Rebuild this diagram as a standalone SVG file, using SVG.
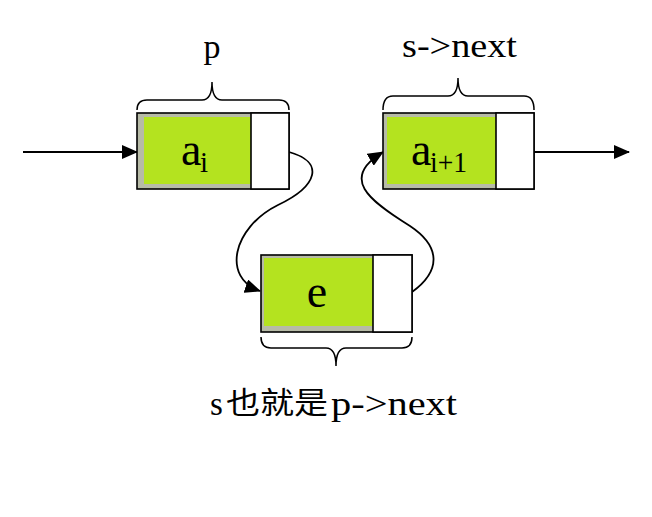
<svg xmlns="http://www.w3.org/2000/svg" width="652" height="517" viewBox="0 0 652 517">
<defs>
<marker id="ah" markerUnits="userSpaceOnUse" markerWidth="16" markerHeight="14" refX="15" refY="7" orient="auto">
<path d="M0,0 L16,7 L0,14 Z" fill="#000"/>
</marker>
<style>
.outer{fill:#b7bba7;stroke:#000;stroke-width:1.6}
.green{fill:#b4e31f}
.ptr{fill:#fff;stroke:#000;stroke-width:1.6}
.brace{fill:none;stroke:#000;stroke-width:1.5}
.conn{fill:none;stroke:#000;stroke-width:1.8}
.t{font-family:"Liberation Serif","Times New Roman",serif;fill:#000}
.cjk{font-family:"Noto Sans CJK SC","Noto Sans CJK TC",sans-serif;fill:#000}
</style>
</defs>
<rect width="652" height="517" fill="#fff"/>

<g id="connectors">
<line class="conn" x1="23" y1="152" x2="137" y2="152" marker-end="url(#ah)"/>
<line class="conn" x1="534" y1="152" x2="629" y2="152" marker-end="url(#ah)"/>
<path class="conn" d="M289,152 C325,162 318,186 278,205 C232,228 222,278 260,291" marker-end="url(#ah)"/>
<path class="conn" d="M412,292 C442,270 440,246 410,226 C368,200 340,178 383,152" marker-end="url(#ah)"/>
</g>

<g id="node-p">
<rect class="outer" x="137" y="113" width="152" height="76"/>
<rect class="green" x="144" y="117" width="107" height="67"/>
<rect class="ptr" x="251" y="113" width="38" height="76"/>
<text class="t" x="181" y="165" font-size="46">a</text>
<text class="t" x="200" y="172" font-size="29">i</text>
<path class="brace" d="M137,110 Q137,100 147,100 L202,100 Q212,100 212,82 Q212,100 222,100 L279,100 Q289,100 289,110"/>
<text class="t" x="212" y="58" font-size="34" text-anchor="middle">p</text>
</g>

<g id="node-next">
<rect class="outer" x="383" y="113" width="151" height="76"/>
<rect class="green" x="387" y="117" width="109" height="67"/>
<rect class="ptr" x="496" y="113" width="38" height="76"/>
<text class="t" x="411" y="165" font-size="46">a</text>
<text class="t" x="430" y="172" font-size="29" textLength="37" lengthAdjust="spacingAndGlyphs">i+1</text>
<path class="brace" d="M383,110 Q383,96 393,96 L448,96 Q458,96 458,78 Q458,96 468,96 L524,96 Q534,96 534,110"/>
<text class="t" x="402" y="57" font-size="33" textLength="115" lengthAdjust="spacingAndGlyphs">s-&gt;next</text>
</g>

<g id="node-e">
<rect class="outer" x="261" y="255" width="151" height="77"/>
<rect class="green" x="264" y="258" width="109" height="68"/>
<rect class="ptr" x="373" y="255" width="39" height="77"/>
<text class="t" x="317" y="307" font-size="46" text-anchor="middle">e</text>
<path class="brace" d="M261,337 Q261,348 271,348 L326,348 Q336,348 336,366 Q336,348 346,348 L402,348 Q412,348 412,337"/>
<text class="t" x="210" y="415" font-size="33">s</text>
<text class="cjk" x="226" y="413" font-size="30" textLength="102" lengthAdjust="spacingAndGlyphs">也就是</text>
<text class="t" x="331" y="415" font-size="33" textLength="126" lengthAdjust="spacingAndGlyphs">p-&gt;next</text>
</g>
</svg>
